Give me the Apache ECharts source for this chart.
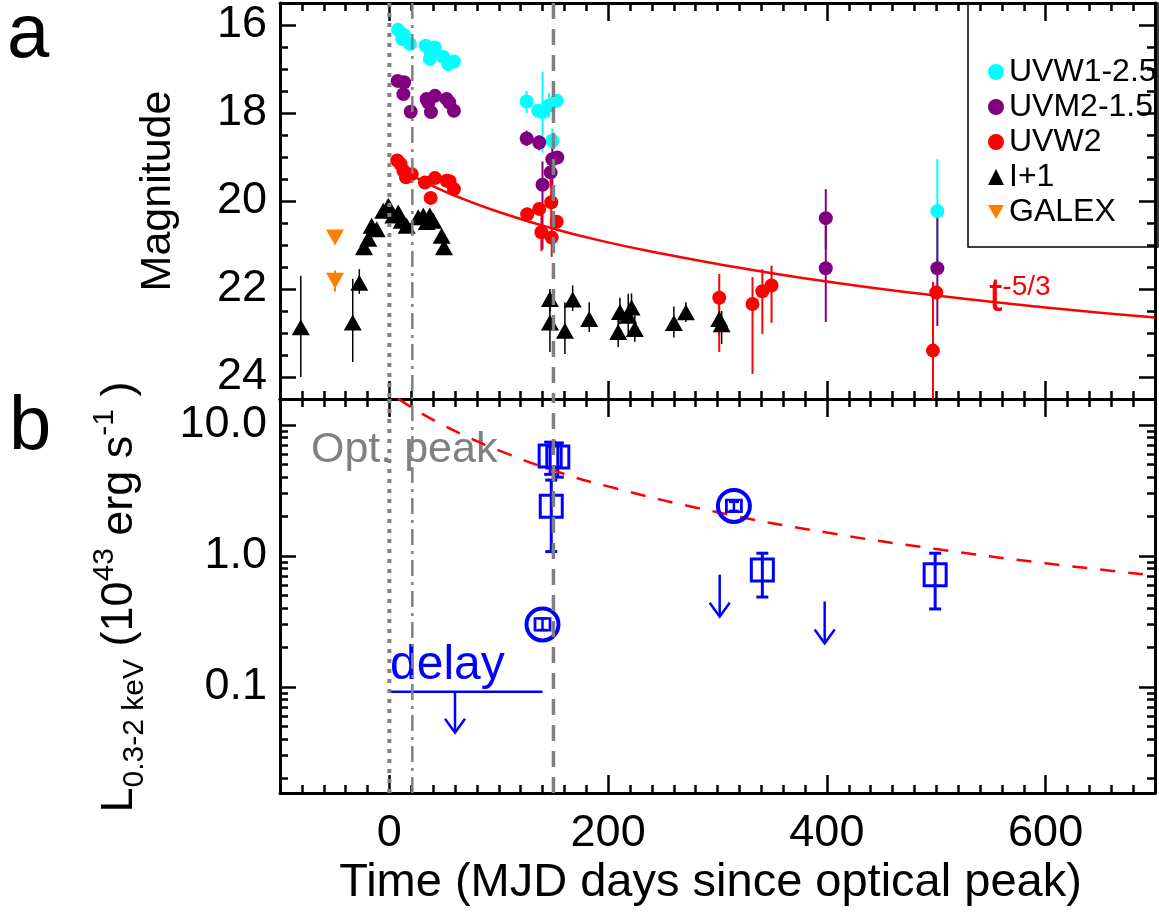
<!DOCTYPE html>
<html>
<head>
<meta charset="utf-8">
<title>TDE light curve</title>
<script src="https://cdn.jsdelivr.net/npm/echarts@6.0.0/dist/echarts.min.js"></script>
<style>
html,body{margin:0;padding:0;background:#fff;}
#main{width:1159px;height:919px;}
</style>
</head>
<body>
<div id="main"></div>
<script>
var FONT = 'Liberation Sans, Arial, Helvetica, sans-serif';

/******** panel a : magnitudes (days since optical peak) ********/
var uvw1Day = [8, 11.8, 13.3, 18.8, 33.2, 37, 38, 41.7, 49.3, 53.8, 59, 125.5, 136, 140, 146, 149, 153, 501];
var uvw1Mag = [16.11, 16.32, 16.23, 16.43, 16.47, 16.77, 16.62, 16.51, 16.73, 16.89, 16.83, 17.74, 17.95, 17.98, 17.83, 18.63, 17.72, 20.23];
var uvw1Lo  = [null, null, null, null, null, null, null, null, null, null, null, 17.5, null, 17.07, 17.55, 18.35, null, 19.05];
var uvw1Hi  = [null, null, null, null, null, null, null, null, null, null, null, 18.0, null, 18.9, 18.1, 18.9, null, 21.4];

var uvm2Day = [7.5, 12.8, 13.5, 19.5, 34, 35.6, 38, 41.7, 52.3, 54.8, 59, 125.5, 137, 140, 147.4, 149, 153.5, 399, 399, 501];
var uvm2Mag = [17.27, 17.57, 17.30, 17.97, 17.68, 17.76, 17.98, 17.61, 17.68, 17.76, 17.95, 18.58, 18.67, 19.63, 19.35, 19.05, 19.01, 20.39, 21.53, 21.53];
var uvm2Lo  = [null, null, null, null, null, null, null, null, null, null, null, 18.4, 18.5, 19.1, 19.0, 18.6, null, 19.73, 20.3, 20.25];
var uvm2Hi  = [null, null, null, null, null, null, null, null, null, null, null, 18.75, 18.85, 21.1, 19.7, 19.9, null, 21.1, 22.75, 22.84];

var uvw2Day = [7.2, 10.3, 12.8, 15.2, 20.4, 32.5, 37.7, 41.7, 52.3, 55, 59, 126, 137, 139, 148, 148.4, 153, 301.6, 332, 341, 349.4, 497, 500];
var uvw2Mag = [19.08, 19.16, 19.31, 19.46, 19.39, 19.58, 19.93, 19.48, 19.54, 19.55, 19.73, 20.30, 20.18, 20.71, 20.03, 20.83, 20.47, 22.2, 22.34, 22.05, 21.92, 23.4, 22.08];
var uvw2Lo  = [null, null, null, null, null, null, null, null, null, null, null, null, null, 20.3, 19.5, 20.5, null, 21.66, 21.73, 21.55, 21.47, 21.84, null];
var uvw2Hi  = [null, null, null, null, null, null, null, null, null, null, null, null, null, 21.14, 20.6, 21.27, null, 23.43, 23.93, 23.02, 22.77, 25.5, null];

var iDay = [-81, -33.5, -27.5, -23.2, -19.3, -16.2, -11.6, -5.6, -1, 3.6, 8.1, 11.2, 15.8, 26.4, 31, 34.1, 37, 40.1, 47.8, 49.9,
            146.8, 146.8, 160.5, 167.6, 182.7, 209.2, 210.8, 218.4, 221.4, 224.4, 260.1, 271.1, 301.6, 303.8];
var iMag = [22.87, 22.76, 21.86, 21.05, 20.86, 20.56, 20.64, 20.22, 20.11, 20.33, 20.26, 20.45, 20.56, 20.37, 20.33, 20.48, 20.33, 20.45, 20.79, 21.05,
            22.23, 22.76, 22.95, 22.24, 22.68, 22.98, 22.52, 22.61, 22.42, 22.91, 22.77, 22.53, 22.68, 22.8];
var iLo  = [21.7, 21.77, 21.55, null, null, null, null, null, null, null, null, null, null, null, null, null, null, null, null, null,
            22.0, 22.2, 22.3, 21.92, 22.3, 22.7, 22.2, 22.11, 22.1, 22.6, 22.4, 22.3, 22.27, 22.5];
var iHi  = [24.0, 23.66, 22.11, null, null, null, null, null, null, null, null, null, null, null, null, null, null, null, null, null,
            22.5, 23.43, 23.48, 22.5, 22.98, 23.32, 22.8, 23.02, 22.7, 23.2, 23.1, 22.75, 23.06, 23.25];

var galexDay = [-49.7, -49.7];
var galexMag = [20.83, 21.81];
var galexLo  = [null, 21.58];
var galexHi  = [null, 22.06];

// t^-5/3 curve
var fitDay = [21, 40, 60, 100, 150, 200, 250, 300, 400, 500, 600, 700];
var fitMag = [19.43, 19.66, 19.88, 20.25, 20.63, 20.94, 21.20, 21.43, 21.83, 22.15, 22.42, 22.65];

/******** panel b : X-ray luminosity (1e43 erg/s) ********/
var sqDay = [147, 154, 148, 341, 499];
var sqL   = [5.8, 5.7, 2.4, 0.78, 0.72];
var sqLo  = [4.2, 4.0, 1.08, 0.486, 0.394];
var sqHi  = [7.4, 7.3, 3.8, 1.05, 1.05];

var circDay = [140, 315];
var circL   = [0.30, 2.41];
var circLo  = [0.272, 2.21];
var circHi  = [0.334, 2.59];

var ulDay = [302, 398];
var ulL   = [0.72, 0.45];

var delayDay = [0, 140];
var delayL = 0.092;
var delayArrowDay = 60;

var xrayFitDay = [8, 25, 50, 75, 100, 150, 200, 300, 400, 500, 600, 700];
var xrayFitL   = [15.9, 12.9, 9.9, 7.85, 6.4, 4.5, 3.4, 2.16, 1.51, 1.13, 0.88, 0.71];

// vertical markers: optical peak, dash-dot, dashed
var peakDay = 0, dashDotDay = 21, dashDay = 150;

var xTickLabels = [0, 200, 400, 600];
var magTickLabels = [16, 18, 20, 22, 24];
var lumTickLabels = [0.1, 1, 10];
var legendNames = ['UVW1-2.5', 'UVM2-1.5', 'UVW2', 'I+1', 'GALEX'];

/******** helpers ********/
var MAG_MIN = 15.5, MAG_MAX = 24.5, L_MIN = 0.0155, L_MAX = 15.8;
var BLUE = '#0000ff', GRAY = '#808080';

function pairs(xs, ys){
	var out = [];
	for (var i = 0; i < xs.length; i++) out.push([xs[i], ys[i]]);
	return out;
}

function errSeries(days, lo, hi, color, width, cap, xi, yi){
	var data = [];
	for (var i = 0; i < days.length; i++){
		if (lo[i] != null) data.push([days[i], lo[i], hi[i]]);
	}
	return {
		type: 'custom', xAxisIndex: xi, yAxisIndex: yi, clip: true, silent: true,
		encode: {x: 0, y: [1, 2]}, data: data,
		renderItem: function(params, api){
			var a = api.coord([api.value(0), api.value(1)]);
			var b = api.coord([api.value(0), api.value(2)]);
			var st = {stroke: color, lineWidth: width};
			var kids = [{type: 'line', shape: {x1: a[0], y1: a[1], x2: b[0], y2: b[1]}, style: st}];
			if (cap){
				kids.push({type: 'line', shape: {x1: a[0] - cap, y1: a[1], x2: a[0] + cap, y2: a[1]}, style: st});
				kids.push({type: 'line', shape: {x1: b[0] - cap, y1: b[1], x2: b[0] + cap, y2: b[1]}, style: st});
			}
			return {type: 'group', children: kids};
		}
	};
}

function arrowSeries(data, len, xi, yi){
	return {
		type: 'custom', xAxisIndex: xi, yAxisIndex: yi, silent: true,
		encode: {x: 0, y: 1}, data: data,
		renderItem: function(params, api){
			var p = api.coord([api.value(0), api.value(1)]);
			var tip = p[1] + len;
			var st = {stroke: BLUE, lineWidth: 2.5, fill: null};
			return {type: 'group', children: [
				{type: 'line', shape: {x1: p[0], y1: p[1], x2: p[0], y2: tip}, style: st},
				{type: 'polyline', shape: {points: [[p[0] - 10, tip - 14], [p[0], tip], [p[0] + 10, tip - 14]]}, style: st}
			]};
		}
	};
}

function refLine(day, y0, y1, dash, width, xi, yi){
	return {
		type: 'line', xAxisIndex: xi, yAxisIndex: yi, data: [[day, y0], [day, y1]],
		symbol: 'none', silent: true, z: 6,
		lineStyle: {color: GRAY, width: width, type: dash}
	};
}

function scatter(name, xs, ys, symbol, size, color, rotate){
	return {
		name: name, type: 'scatter', xAxisIndex: 0, yAxisIndex: 0,
		data: pairs(xs, ys), symbol: symbol, symbolSize: size, symbolRotate: rotate || 0,
		itemStyle: {color: color, opacity: 1}, z: 3
	};
}

function xAx(grid, pos, major, withLabels){
	var ax = {
		type: 'value', gridIndex: grid, position: pos, min: -100, max: 700, interval: 20,
		axisLine: {show: !major, onZero: false, lineStyle: {color: '#000', width: 3}},
		axisTick: {inside: true, length: major ? 18 : 8, lineStyle: {color: '#000', width: 2.5}},
		axisLabel: {show: false}, splitLine: {show: false}
	};
	if (major) ax.axisTick.customValues = xTickLabels;
	if (withLabels){
		ax.axisLabel = {show: true, customValues: xTickLabels, margin: 18,
			color: '#000', fontSize: 45, fontFamily: FONT};
		ax.name = 'Time (MJD days since optical peak)';
		ax.nameLocation = 'middle';
		ax.nameGap = 67;
		ax.nameTextStyle = {color: '#000', fontSize: 47, fontFamily: FONT, padding: [0, 14, 0, 0]};
	}
	return ax;
}

function magAx(pos, major, withLabels){
	var ax = {
		type: 'value', gridIndex: 0, position: pos, min: MAG_MIN, max: MAG_MAX, interval: 0.5, inverse: true,
		axisLine: {show: !major, onZero: false, lineStyle: {color: '#000', width: 3}},
		axisTick: {inside: true, length: major ? 16 : 8, lineStyle: {color: '#000', width: 2.5}},
		axisLabel: {show: false}, splitLine: {show: false}
	};
	if (major) ax.axisTick.customValues = magTickLabels;
	if (withLabels) ax.axisLabel = {show: true, customValues: magTickLabels, margin: 13,
		color: '#000', fontSize: 45, fontFamily: FONT};
	return ax;
}

var lumMinor = [];
[0.01, 0.1, 1].forEach(function(dec){
	for (var k = 2; k <= 9; k++) lumMinor.push(+(k * dec).toFixed(3));
});

function lumAx(pos, major, withLabels){
	var ax = {
		type: 'log', logBase: 10, gridIndex: 1, position: pos, min: L_MIN, max: L_MAX,
		axisLine: {show: !major, onZero: false, lineStyle: {color: '#000', width: 3}},
		axisTick: {inside: true, length: major ? 16 : 8, customValues: major ? lumTickLabels : lumMinor,
			lineStyle: {color: '#000', width: 2.5}},
		axisLabel: {show: false}, splitLine: {show: false}
	};
	if (withLabels) ax.axisLabel = {show: true, customValues: lumTickLabels, margin: 13,
		color: '#000', fontSize: 45, fontFamily: FONT,
		formatter: function(v){ return Number(v).toFixed(1); }};
	return ax;
}

/******** option ********/
var series = [
	// panel a
	errSeries(iDay, iLo, iHi, '#000', 1.5, 0, 0, 0),
	errSeries(galexDay, galexLo, galexHi, '#ff8000', 2, 0, 0, 0),
	errSeries(uvw1Day, uvw1Lo, uvw1Hi, '#00ffff', 2, 0, 0, 0),
	errSeries(uvm2Day, uvm2Lo, uvm2Hi, '#800080', 2, 0, 0, 0),
	errSeries(uvw2Day, uvw2Lo, uvw2Hi, '#ff0000', 2, 0, 0, 0),
	scatter('I+1', iDay, iMag, 'triangle', [18, 16], '#000'),
	scatter('GALEX', galexDay, galexMag, 'triangle', [18, 16], '#ff8000', 180),
	scatter('UVW1-2.5', uvw1Day, uvw1Mag, 'circle', 14, '#00ffff'),
	scatter('UVM2-1.5', uvm2Day, uvm2Mag, 'circle', 14, '#800080'),
	scatter('UVW2', uvw2Day, uvw2Mag, 'circle', 14, '#ff0000'),
	{type: 'line', xAxisIndex: 0, yAxisIndex: 0, data: pairs(fitDay, fitMag), smooth: true, symbol: 'none',
		silent: true, z: 4, lineStyle: {color: '#ff0000', width: 2.5}},
	refLine(peakDay, MAG_MIN, MAG_MAX, [4, 6], 4, 0, 0),
	refLine(dashDotDay, MAG_MIN, MAG_MAX, [16, 6, 3, 6], 2.5, 0, 0),
	refLine(dashDay, MAG_MIN, MAG_MAX, [16, 10], 3.5, 0, 0),

	// panel b
	{type: 'line', xAxisIndex: 4, yAxisIndex: 4, data: pairs(xrayFitDay, xrayFitL), smooth: true, symbol: 'none',
		silent: true, z: 3, lineStyle: {color: '#ff0000', width: 2.5, type: [15, 13]}},
	errSeries(sqDay, sqLo, sqHi, BLUE, 3, 6, 4, 4),
	errSeries(circDay, circLo, circHi, BLUE, 2.5, 5, 4, 4),
	{type: 'scatter', xAxisIndex: 4, yAxisIndex: 4, data: pairs(sqDay, sqL), symbol: 'rect', symbolSize: 22,
		silent: true, z: 4, itemStyle: {color: 'rgba(0,0,0,0)', borderColor: BLUE, borderWidth: 3, opacity: 1}},
	{type: 'scatter', xAxisIndex: 4, yAxisIndex: 4, data: pairs(circDay, circL), symbol: 'rect', symbolSize: [15, 12],
		silent: true, z: 4, itemStyle: {color: 'rgba(0,0,0,0)', borderColor: BLUE, borderWidth: 2.5, opacity: 1}},
	{type: 'scatter', xAxisIndex: 4, yAxisIndex: 4, data: pairs(circDay, circL), symbol: 'circle', symbolSize: 32,
		silent: true, z: 4, itemStyle: {color: 'rgba(0,0,0,0)', borderColor: BLUE, borderWidth: 4, opacity: 1}},
	arrowSeries(pairs(ulDay, ulL), 42, 4, 4),
	arrowSeries([[delayArrowDay, delayL]], 41, 4, 4),
	{type: 'line', xAxisIndex: 4, yAxisIndex: 4, data: [[delayDay[0], delayL], [delayDay[1], delayL]], symbol: 'none',
		silent: true, z: 4, lineStyle: {color: BLUE, width: 2.5}},
	refLine(peakDay, L_MIN, L_MAX, [4, 6], 4, 4, 4),
	refLine(dashDotDay, L_MIN, L_MAX, [16, 6, 3, 6], 2.5, 4, 4),
	refLine(dashDay, L_MIN, L_MAX, [16, 10], 3.5, 4, 4)
];

// GALEX points are upper limits drawn as a downward triangle
var legendData = legendNames.map(function(n){
	return n === 'GALEX' ? {name: n, icon: 'path://M0,0L18,0L9,16Z'} : {name: n};
});

var option = {
	animation: false,
	backgroundColor: '#fff',
	textStyle: {fontFamily: FONT},
	grid: [
		{left: 280, top: 3, width: 875, height: 396, outerBoundsMode: 'none'},
		{left: 280, top: 399, width: 875, height: 394, outerBoundsMode: 'none'}
	],
	xAxis: [
		xAx(0, 'bottom', false, false), xAx(0, 'bottom', true, false),
		xAx(0, 'top', false, false), xAx(0, 'top', true, false),
		xAx(1, 'bottom', false, true), xAx(1, 'bottom', true, false),
		xAx(1, 'top', false, false), xAx(1, 'top', true, false)
	],
	yAxis: [
		magAx('left', false, true), magAx('left', true, false),
		magAx('right', false, false), magAx('right', true, false),
		lumAx('left', false, true), lumAx('left', true, false),
		lumAx('right', false, false), lumAx('right', true, false)
	],
	legend: {
		orient: 'vertical', left: 983, top: 51, itemWidth: 16, itemHeight: 16, itemGap: 3,
		selectedMode: false, data: legendData,
		textStyle: {color: '#000', fontSize: 32, lineHeight: 29, fontFamily: FONT}
	},
	graphic: [
		{type: 'rect', shape: {x: 968, y: 3, width: 190, height: 244}, silent: true,
			style: {fill: null, stroke: '#000', lineWidth: 1.5}},
		{type: 'text', x: 7, y: 36, silent: true,
			style: {text: 'a', fontSize: 76, fontFamily: FONT, fill: '#000', align: 'left', verticalAlign: 'middle'}},
		{type: 'text', x: 9, y: 428, silent: true,
			style: {text: 'b', fontSize: 76, fontFamily: FONT, fill: '#000', align: 'left', verticalAlign: 'middle'}},
		{type: 'text', x: 158, y: 191, rotation: Math.PI / 2, silent: true,
			style: {text: 'Magnitude', fontSize: 43, fontFamily: FONT, fill: '#000', align: 'center', verticalAlign: 'middle'}},
		{type: 'text', x: 120, y: 597, rotation: Math.PI / 2, silent: true,
			style: {
				text: '{m|L}{s|0.3-2 keV}{m| (10}{p|43}{m| erg s}{p|-1}{m| )}',
				fill: '#000', align: 'center', verticalAlign: 'middle',
				rich: {
					m: {fontSize: 45, lineHeight: 60, fontFamily: FONT, fill: '#000'},
					s: {fontSize: 30, lineHeight: 20, verticalAlign: 'bottom', fontFamily: FONT, fill: '#000'},
					p: {fontSize: 30, lineHeight: 28, verticalAlign: 'top', fontFamily: FONT, fill: '#000'}
				}
			}},
		{type: 'text', x: 311, y: 450, silent: true, z: 1,
			style: {text: 'Opt. peak', fontSize: 43, fontFamily: FONT, fill: GRAY, align: 'left', verticalAlign: 'middle'}},
		{type: 'text', x: 390, y: 666, silent: true,
			style: {text: 'delay', fontSize: 48, fontFamily: FONT, fill: BLUE, align: 'left', verticalAlign: 'middle'}},
		{type: 'text', x: 989, y: 298, silent: true,
			style: {
				text: '{t|t}{e|-5/3}', align: 'left', verticalAlign: 'middle',
				rich: {
					t: {fontSize: 48, lineHeight: 50, fontFamily: FONT, fill: '#ff0000'},
					e: {fontSize: 28, lineHeight: 22, verticalAlign: 'top', fontFamily: FONT, fill: '#ff0000'}
				}
			}}
	],
	series: series
};

var chart = echarts.init(document.getElementById('main'));
chart.setOption(option);
</script>
</body>
</html>
